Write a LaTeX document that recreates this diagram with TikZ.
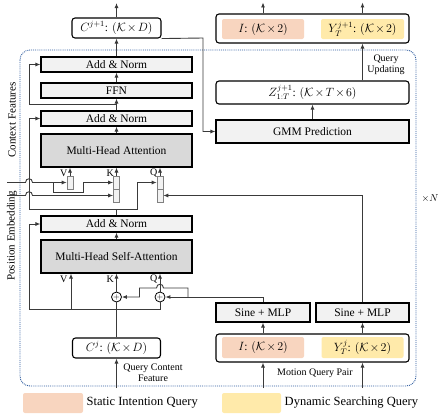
\documentclass[tikz,border=0pt]{standalone}
\usepackage{amsmath}
\usepackage{fontspec}
\setmainfont{Liberation Serif}
\usepackage{tikz}
\usetikzlibrary{arrows.meta}

\definecolor{intentcol}{HTML}{F8D5BF}
\definecolor{searchcol}{HTML}{FFEAAA}
\definecolor{lightcol}{HTML}{F2F2F2}
\definecolor{darkcol}{HTML}{D9D9D9}
\definecolor{loopcol}{HTML}{2E5C9E}
\definecolor{linecol}{HTML}{3A3A3A}

\newcommand{\tmul}{\mskip2mu{\times}\mskip2mu}

\tikzset{
  layer/.style={draw=black, line width=1.1pt, fill=lightcol, minimum width=151, minimum height=15, inner sep=0pt, font=\fontsize{11.5}{13}\selectfont},
  attn/.style={layer, fill=darkcol, minimum height=33},
  tensor/.style={draw=black, line width=1.1pt, fill=white, rounded corners=3pt, inner sep=0pt, font=\fontsize{11.5}{13}\selectfont},
  query/.style={rounded corners=2pt, inner sep=0pt, minimum width=82, minimum height=20, font=\fontsize{11.5}{13}\selectfont},
  slot/.style={draw=gray, line width=0.6pt, fill=lightcol, minimum width=6, minimum height=13, inner sep=0pt},
  plus/.style={draw=black, circle, line width=0.8pt, fill=white, minimum size=10, inner sep=0pt, font=\fontsize{8}{8}\selectfont},
  arr/.style={draw=linecol, line width=0.9pt, -{Latex[length=5pt,width=4pt]}},
  wire/.style={draw=linecol, line width=0.9pt},
  lab/.style={font=\fontsize{10}{11}\selectfont, inner sep=1pt},
}

\begin{document}
\begin{tikzpicture}[x=1pt,y=-1pt]
\useasboundingbox (0,0) rectangle (441,418);
\draw[loopcol, densely dotted, line width=0.9pt, rounded corners=10pt] (20,50) rectangle (416,386);

\node[tensor, minimum width=89, minimum height=20] (cnext) at (116.5,28) {$C^{j+1}$: $(\mathcal{K}\tmul D)$};
\node[layer] (addtop) at (116.5,64.5) {Add \& Norm};
\node[layer] (ffn) at (116.5,90.5) {FFN};
\node[layer] (addmid) at (116.5,118.5) {Add \& Norm};
\node[attn] (mha) at (116.5,150.5) {Multi-Head Attention};
\node[layer, minimum height=16] (addlow) at (116.5,224) {Add \& Norm};
\node[attn] (mhsa) at (116.5,256.5) {Multi-Head Self-Attention};
\node[tensor, minimum width=88, minimum height=20] (cj) at (116.5,348) {$C^{j}$: $(\mathcal{K}\tmul D)$};

\node[slot] (vslot) at (70,182.5) {};
\node[slot] (kup) at (116.5,182.5) {};
\node[slot] (kdn) at (116.5,195.5) {};
\node[slot] (qup) at (160,182.5) {};
\node[slot] (qdn) at (160,195.5) {};
\node[plus] (plusk) at (116.5,297) {$+$};
\node[plus] (plusq) at (160,297) {$+$};

\node[tensor, minimum width=193, minimum height=29] (out) at (312.5,28.5) {};
\node[query, fill=intentcol] (outi) at (263,29) {$I$: $(\mathcal{K}\tmul 2)$};
\node[query, fill=searchcol, minimum width=83] (outy) at (362.5,29) {$Y_T^{j+1}$: $(\mathcal{K}\tmul 2)$};
\node[tensor, minimum width=193, minimum height=23] (zbox) at (312.5,92.5) {$Z_{1:T}^{j+1}$: $(\mathcal{K}\tmul T\tmul 6)$};
\node[layer, minimum width=193, minimum height=23] (gmm) at (312.5,131.5) {GMM Prediction};
\node[layer, minimum width=94, minimum height=19] (sinei) at (263,312.5) {Sine + MLP};
\node[layer, minimum width=93, minimum height=19] (siney) at (362.5,312.5) {Sine + MLP};
\node[tensor, minimum width=193, minimum height=28] (pair) at (312.5,348) {};
\node[query, fill=intentcol, minimum height=21] (pairi) at (263,347.5) {$I$: $(\mathcal{K}\tmul 2)$};
\node[query, fill=searchcol, minimum height=21] (pairy) at (362.5,347.5) {$Y_T^{j}$: $(\mathcal{K}\tmul 2)$};

\node[rotate=90, font=\fontsize{11}{12}\selectfont] (ctxlab) at (12,120) {Context Features};
\node[rotate=90, font=\fontsize{11}{12}\selectfont] (poslab) at (12,236) {Position Embedding};
\node (rep) at (430,198) {$\times N$};
\node[lab, align=center] (updlab) at (386,65) {Query\\Updating};
\node[lab] (pairlab) at (315,373) {Motion Query Pair};
\node[lab, align=center] (cjlab) at (153,373) {Query Content\\Feature};
\foreach \n/\x in {V/70,K/116.5,Q/160} {
  \node[lab, anchor=east] at ({\x-1.5},173) {\n};
  \node[lab, anchor=east] at ({\x-1.5},279) {\n};
}

\node[query, fill=intentcol, minimum width=60] (legi) at (53,403) {};
\node[anchor=west, font=\fontsize{12.5}{14}\selectfont] (legitext) at (legi.east) {Static Intention Query};
\node[query, fill=searchcol, minimum width=59] (legy) at (251.5,403) {};
\node[anchor=west, font=\fontsize{12.5}{14}\selectfont] (legytext) at (legy.east) {Dynamic Searching Query};

\coordinate (top0) at (116.5,3);
\draw[arr] (cnext.north) -- (top0);
\draw[arr] (addtop.north) -- (cnext.south);
\draw[arr] (ffn.north) -- (addtop.south);
\draw[arr] (addmid.north) -- (ffn.south);
\draw[arr] (mha.north) -- (addmid.south);
\coordinate (ffnres) at (116.5,104);
\draw[arr] (ffnres) -- (29,104) |- (addtop.west);
\coordinate (mhares) at (116.5,209);
\draw[wire] (addlow.north) -- (mhares);
\draw[arr] (mhares) -- (29,209) |- (addmid.west);
\draw[arr] (mhares) -- (137,209) |- (qup.west);

\coordinate (ctx) at (7,182.5);
\draw[arr] (ctx) -- (25.5,182.5) .. controls (25.5,177.5) and (32.5,177.5) .. (32.5,182.5) -- (vslot.west);
\draw[arr] (53,182.5) -- (53,192) -- (83,192) -- (83,182.5) -- (kup.west);
\coordinate (pos) at (7,195.5);
\draw[arr] (pos) -- (25.5,195.5) .. controls (25.5,190.5) and (32.5,190.5) .. (32.5,195.5) -- (kdn.west);
\draw[arr] (vslot.north) -- (vslot.north |- mha.south);
\draw[arr] (kup.north) -- (kup.north |- mha.south);
\draw[arr] (qup.north) -- (qup.north |- mha.south);
\draw[arr] (siney.north) |- (qdn.east);

\draw[arr] (mhsa.north) -- (addlow.south);
\draw[wire] (cj.north) -- (plusk.south);
\draw[arr] (plusk.north) -- (plusk.north |- mhsa.south);
\draw[arr] (plusq.north) -- (plusq.north |- mhsa.south);
\coordinate (cjsplit) at (116.5,309);
\draw[arr] (cjsplit) -- (29,309) |- (addlow.west);
\coordinate (vin) at (71,309);
\draw[arr] (vin) -- (vin |- mhsa.south);
\draw[wire] (cjsplit) -| (plusq.south);
\draw[arr] (sinei.north) |- (plusq.east);
\coordinate (qpos) at (188,297);
\draw[arr] (qpos) -- (188,288) -- (163.5,288) .. controls (163.5,283) and (156.5,283) .. (156.5,288) -- (139.5,288) -- (139.5,297) -- (plusk.east);

\draw[arr] (pairi |- pair.north) -- (sinei.south);
\draw[arr] (pairy |- pair.north) -- (siney.south);
\coordinate (ini) at (263,388);
\coordinate (iny) at (362.5,388);
\coordinate (cin) at (116.5,388);
\draw[arr] (ini) -- (ini |- pair.south);
\draw[arr] (iny) -- (iny |- pair.south);
\draw[arr] (cin) -- (cj.south);
\draw[arr] (outi |- out.north) -- ++(0,-11);
\draw[arr] (outy |- out.north) -- ++(0,-11);
\draw[arr] (zbox.north -| outy) -- (out.south -| outy);
\draw[arr] (gmm.north) -- (zbox.south);
\draw[arr] (cnext.south east) -- (203,38) |- (gmm.west);
\end{tikzpicture}
\end{document}
